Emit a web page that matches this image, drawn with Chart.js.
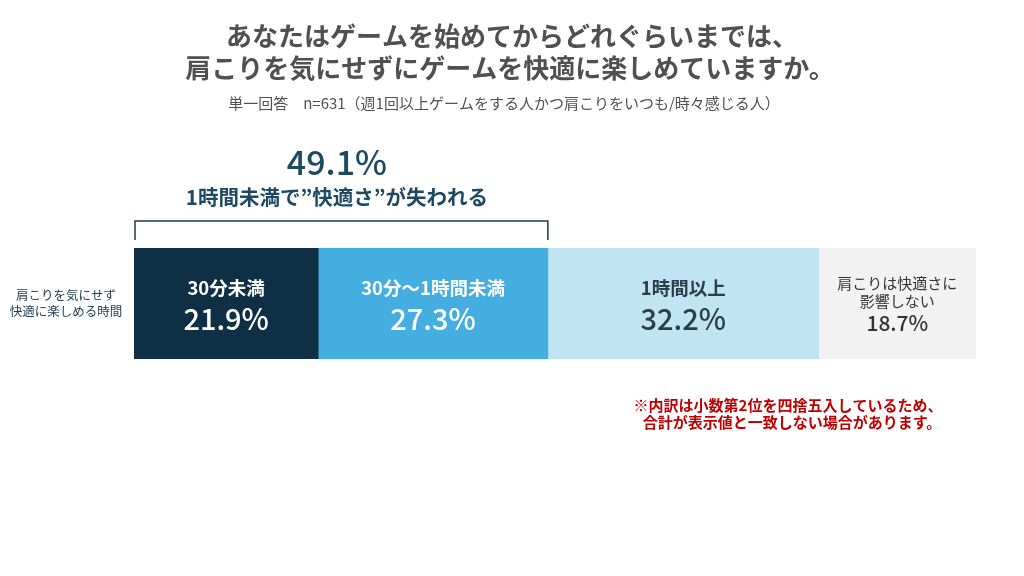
<!DOCTYPE html>
<html>
<head>
<meta charset="utf-8">
<script src="https://cdn.jsdelivr.net/npm/chart.js@4.4.1/dist/chart.umd.min.js"></script>
<style>
  html, body { margin: 0; padding: 0; background: #ffffff; }
  #wrap { width: 1024px; height: 576px; }
</style>
</head>
<body>
<div id="wrap"><canvas id="chart" width="1024" height="576"></canvas></div>
<script>
var categories = ["肩こりを気にせず\n快適に楽しめる時間"];
var segmentNames = ["30分未満", "30分～1時間未満", "1時間以上", "肩こりは快適さに\n影響しない"];
var segmentValues = [21.9, 27.3, 32.2, 18.7];
var segmentColors = ["#0e2f44", "#45aee0", "#c1e4f3", "#f2f2f2"];
var segmentTextColors = ["#ffffff", "#ffffff", "#2b3e4d", "#333333"];
var bracketTotal = "49.1%";
var bracketNote = "1時間未満で”快適さ”が失われる";
var titleLines = ["あなたはゲームを始めてからどれぐらいまでは、", "肩こりを気にせずにゲームを快適に楽しめていますか。"];
var subtitle = "単一回答　n=631（週1回以上ゲームをする人かつ肩こりをいつも/時々感じる人）";
var noteLines = ["※内訳は小数第2位を四捨五入しているため、", "合計が表示値と一致しない場合があります。"];

var FONT = '"Noto Sans CJK JP", "Noto Sans", sans-serif';

var datasets = segmentValues.map(function(v, i) {
    return {
        label: segmentNames[i],
        data: [v],
        backgroundColor: segmentColors[i],
        borderWidth: 0,
        barPercentage: 1,
        categoryPercentage: 1
    };
});

var textPlugin = {
    id: 'texts',
    afterDatasetsDraw: function(chart) {
        var ctx = chart.ctx;
        var area = chart.chartArea;
        ctx.save();
        ctx.textAlign = 'center';
        ctx.textBaseline = 'middle';

        // title + subtitle
        ctx.fillStyle = '#505050';
        ctx.font = 'bold 26px ' + FONT;
        ctx.fillText(titleLines[0], 512, 36);
        ctx.fillText(titleLines[1], 510, 68);
        ctx.font = '15px ' + FONT;
        ctx.fillText(subtitle, 504, 103);

        // segment labels
        for (var i = 0; i < segmentValues.length; i++) {
            var bar = chart.getDatasetMeta(i).data[0];
            var cx = (bar.x + bar.base) / 2;
            var cy = bar.y;
            ctx.fillStyle = segmentTextColors[i];
            var lines = segmentNames[i].split('\n');
            var pct = segmentValues[i].toFixed(1) + '%';
            if (lines.length === 1) {
                ctx.font = 'bold 18.5px ' + FONT;
                ctx.fillText(lines[0], cx, cy - 16);
                ctx.font = '500 29px ' + FONT;
                ctx.fillText(pct, cx, cy + 15);
            } else {
                ctx.font = '15px ' + FONT;
                ctx.fillText(lines[0], cx, cy - 20);
                ctx.fillText(lines[1], cx, cy - 2);
                ctx.font = '500 21px ' + FONT;
                ctx.fillText(pct, cx, cy + 20);
            }
        }

        // category label on the left
        ctx.fillStyle = '#1f3a4d';
        ctx.font = '12.5px ' + FONT;
        var cat = categories[0].split('\n');
        var midY = (area.top + area.bottom) / 2;
        ctx.fillText(cat[0], 66, midY - 8);
        ctx.fillText(cat[1], 66, midY + 8);

        // bracket over the first two segments
        var left = chart.getDatasetMeta(0).data[0].base;
        var right = chart.getDatasetMeta(1).data[0].x;
        ctx.strokeStyle = '#1f3a4d';
        ctx.lineWidth = 1.5;
        ctx.beginPath();
        ctx.moveTo(left + 1, area.top - 8);
        ctx.lineTo(left + 1, area.top - 27);
        ctx.lineTo(right, area.top - 27);
        ctx.lineTo(right, area.top - 8);
        ctx.stroke();

        var bx = (left + right) / 2;
        ctx.fillStyle = '#1d4a62';
        ctx.font = '500 34px ' + FONT;
        ctx.fillText(bracketTotal, bx - 4, 162);
        ctx.font = 'bold 20.5px ' + FONT;
        ctx.fillText(bracketNote, bx - 4, 197);

        // note
        ctx.fillStyle = '#c00000';
        ctx.font = 'bold 15px ' + FONT;
        ctx.fillText(noteLines[0], 788, 405);
        ctx.fillText(noteLines[1], 792, 422);

        ctx.restore();
    }
};

new Chart(document.getElementById('chart'), {
    type: 'bar',
    plugins: [textPlugin],
    data: {
        labels: categories,
        datasets: datasets
    },
    options: {
        indexAxis: 'y',
        responsive: false,
        animation: false,
        layout: { padding: { left: 134, right: 48, top: 248, bottom: 217 } },
        plugins: {
            legend: { display: false },
            tooltip: { enabled: false },
            title: { display: false }
        },
        scales: {
            x: { stacked: true, min: 0, max: 100.1, display: false },
            y: { stacked: true, display: false }
        }
    }
});
</script>
</body>
</html>
